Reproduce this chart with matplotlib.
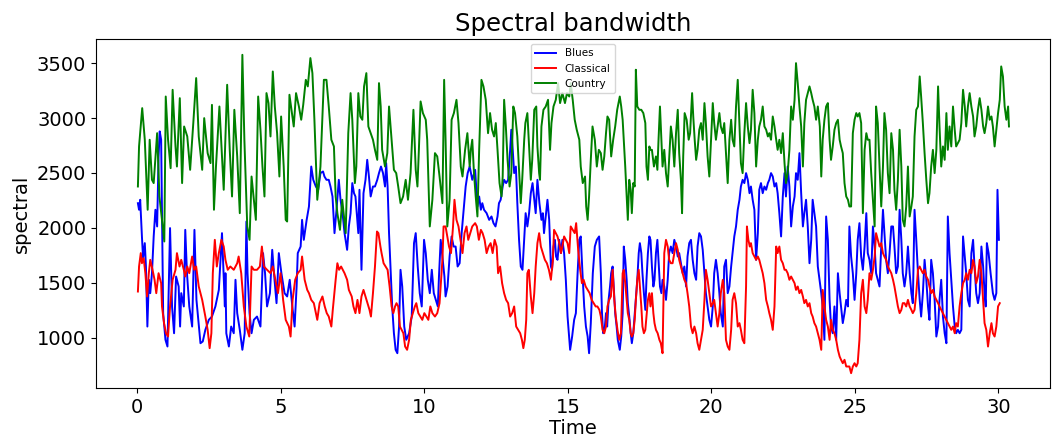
import matplotlib
matplotlib.use("Agg")
import matplotlib.pyplot as plt

# ---------------- data ----------------
country_t = [
 0.02,0.06,0.17,0.26,0.36,0.43,0.51,0.57,0.69,0.77,0.86,0.94,0.99,1.07,1.16,1.23,1.33,1.38,1.48,1.56,1.63,1.74,1.84,1.95,2.05,2.14,2.26,2.33,2.45,2.55,2.60,2.67,2.74,2.86,
 3.01,3.13,3.22,3.30,3.38,3.48,3.57,3.66,3.73,3.83,3.91,3.98,4.06,4.13,4.21,4.29,4.36,4.43,4.50,4.57,4.64,4.72,4.79,4.87,4.95,5.01,5.10,5.17,5.22,5.30,5.37,5.45,5.53,5.63,5.71,5.78,5.87,5.94,6.03,6.10,6.17,6.27,6.38,6.50,6.59,6.67,6.76,6.85,6.91,6.97,7.06,7.14,7.26,
 7.35,7.43,7.49,7.58,7.63,7.70,7.77,7.84,7.90,7.98,8.05,8.13,8.21,8.28,8.36,8.42,8.48,8.53,8.63,8.71,8.77,8.86,8.94,9.02,9.09,9.17,9.26,9.35,9.43,9.52,9.62,9.70,9.76,9.81,9.87,9.95,10.05,10.10,10.19,10.28,10.37,10.45,10.53,10.63,10.69,10.74,10.80,10.88,10.95,11.03,11.12,11.19,11.27,11.33,11.42,11.50,11.58,
 11.62,11.67,11.73,11.79,11.85,11.91,11.99,12.06,12.14,12.22,12.29,12.36,12.43,12.49,12.55,12.62,12.69,12.73,12.78,12.84,12.90,12.97,13.03,13.10,13.16,13.24,13.30,13.36,13.41,13.48,13.52,13.59,13.66,13.71,13.76,13.83,13.90,13.94,14.00,14.03,14.08,14.15,14.23,14.31,14.38,14.43,14.50,14.58,14.66,14.73,14.81,14.90,14.97,15.05,15.10,15.17,15.24,15.31,15.40,15.45,15.52,15.60,15.64,15.69,15.74,15.80,15.86,15.94,16.01,16.08,
 16.15,16.21,16.27,16.33,16.38,16.44,16.51,16.58,16.65,16.72,16.81,16.86,16.91,16.95,17.00,17.05,17.09,17.14,17.19,17.23,17.28,17.33,17.37,17.42,17.49,17.56,17.63,17.70,17.74,17.79,17.84,17.88,17.93,18.00,18.07,18.12,18.16,18.21,18.26,18.30,18.36,18.42,18.48,18.53,18.59,18.65,18.71,18.77,18.83,18.88,18.94,18.98,19.02,19.07,19.14,19.21,19.26,19.33,19.37,19.42,19.47,19.52,19.58,19.64,19.70,19.76,19.81,19.87,19.93,19.99,20.05,20.10,20.16,20.22,20.28,20.33,20.40,20.45,
 20.57,20.63,20.69,20.74,20.80,20.86,20.92,20.98,21.03,21.09,21.15,21.21,21.27,21.33,21.38,21.44,21.50,21.56,21.62,21.67,21.73,21.79,21.85,21.91,21.97,22.02,22.08,22.14,22.20,22.26,22.31,22.37,22.43,22.49,22.55,22.60,22.66,22.72,22.78,22.84,22.90,22.95,23.01,23.07,23.13,23.19,23.24,23.30,23.36,23.42,23.48,23.53,23.59,23.65,23.71,23.78,23.83,23.88,23.94,24.00,24.06,24.12,24.17,24.23,24.29,24.35,24.41,24.47,24.52,24.58,24.64,24.70,24.76,24.81,
 24.87,24.93,24.99,25.05,25.10,25.16,25.22,25.28,25.34,25.40,25.45,25.51,25.57,25.63,25.69,25.74,25.80,25.86,25.92,25.98,26.03,26.09,26.15,26.21,26.27,26.33,26.38,26.44,26.50,26.56,26.62,26.67,26.73,26.79,26.85,26.91,26.97,27.02,27.08,27.14,27.20,27.26,27.31,27.37,27.43,27.49,27.55,27.60,27.66,27.72,27.78,27.84,27.90,27.95,28.01,28.07,28.13,28.19,28.24,28.30,28.36,28.42,28.48,28.53,28.59,28.65,28.71,28.77,28.83,28.88,28.94,29.00,29.06,29.12,29.17,
 29.23,29.29,29.35,29.41,29.47,29.52,29.58,29.64,29.70,29.76,29.81,29.87,29.93,29.99,30.05,30.10,30.16,30.22,30.28,30.34,30.37]
country_v = [
 2376,2741,3090,2802,2164,2802,2437,2407,2862,2285,2072,1875,3196,2802,2543,3257,2741,2558,3181,2407,2923,2832,2528,2954,3364,2832,2528,2999,2680,2589,3120,2164,2558,3105,
 2346,3303,2710,2285,3075,2650,2133,3576,2802,2012,1890,2467,2255,2072,3196,2893,2558,2285,3227,3136,2832,3424,3105,2862,2467,3014,2558,2072,2057,3212,3075,2923,3227,3105,2984,3120,3348,3288,3546,3409,2984,2255,2558,3348,3348,3105,2802,2741,2285,2133,1981,2255,1951,
 2862,3227,2984,2407,2558,3227,3014,2984,3288,3409,2923,2862,2802,2710,2619,3318,3105,2710,2558,2680,3105,2802,2528,2498,2376,2224,2285,2437,2255,2498,3075,2528,2376,2710,3151,3045,2984,2802,2012,2255,2680,2650,2467,2224,3348,2802,2012,2255,2984,3045,3166,2954,2558,2467,2710,2862,2558,
 2710,2802,2498,2285,2103,2710,3348,3288,3166,2862,3045,2893,2832,2954,2710,2407,2285,2467,3166,2923,2619,2376,2498,3105,3045,2832,2528,2224,2437,2802,2954,3045,2680,2437,2619,3075,3105,2741,2498,2437,2923,3075,3105,3166,2710,2954,3105,3166,3318,3136,3227,3136,3227,3196,3318,3166,2984,2893,2802,2558,2407,2467,2194,2072,2285,2619,2923,2802,2558,2710,
 2680,2528,2650,2862,3014,2984,2650,2802,2923,3075,3196,3105,2984,2802,2558,2285,2072,2437,2346,2133,2407,2376,3440,3105,3075,3075,3045,2954,2558,2437,2741,2710,2710,2558,2650,2528,2802,3105,2802,2558,2710,2498,2376,2619,2923,2802,2558,2862,3075,2680,2437,2133,2650,3045,2984,2802,2862,3227,3014,2802,2619,2710,2893,2954,2802,3136,2954,2650,2467,2802,3136,2954,2802,2923,3045,2923,2862,2954,
 2407,2802,2984,2802,2741,3105,3348,2923,2589,2498,2862,3136,2923,2771,2893,3257,3045,2558,2802,2923,2984,3105,2923,2893,2832,2862,2802,3014,2923,2802,2710,2802,2680,2862,2589,2407,2498,2710,3105,2984,3166,3500,3318,3105,2923,2558,2954,3166,3227,3288,3227,3166,3105,2984,3105,2923,2467,2802,2984,3105,3136,2802,2619,2741,2893,2954,2984,2802,2741,2680,2407,2285,2255,2194,
 2194,2862,2984,3045,3014,3045,2954,2133,2710,2862,2802,2802,2498,2255,2012,3105,2954,2558,2194,2558,3045,2893,2498,2315,2862,2710,2346,2164,2437,2893,2558,2072,2012,2194,2558,2103,2194,2285,2832,3075,3105,3379,3196,2954,2680,2437,2224,2315,2558,2710,2498,2710,3288,2923,2558,2741,2619,3045,2710,2923,2741,3105,2893,2741,2771,2802,2954,3257,3105,2923,3105,3227,3105,3014,2832,
 2923,3075,3181,3075,2923,2862,2954,3105,2984,3014,2923,2741,2893,3045,3166,3470,3379,3105,2984,3105,2923]

blues_t = [
 0.02,0.06,0.10,0.16,0.20,0.26,0.30,0.35,0.40,0.45,0.51,0.57,0.63,0.69,0.74,0.78,0.83,0.90,0.98,1.05,1.14,1.21,1.28,1.35,1.44,1.49,1.53,1.62,1.67,1.73,1.81,1.91,1.99,2.06,2.20,2.28,2.37,2.49,2.60,2.72,2.84,2.95,3.05,
 3.07,3.10,3.19,3.27,3.36,3.42,3.48,3.57,3.66,3.74,3.80,3.84,3.91,3.98,4.06,4.17,4.29,4.38,4.45,4.52,4.62,4.70,4.78,4.85,4.93,5.02,5.13,5.22,5.31,5.40,5.48,5.55,5.59,5.69,5.74,5.80,5.90,5.98,6.06,6.13,6.22,6.30,6.38,6.47,6.52,6.59,6.67,6.73,6.80,6.87,6.94,7.02,7.08,7.15,7.22,7.31,
 7.37,7.43,7.49,7.55,7.60,7.70,7.74,7.81,7.88,7.95,8.01,8.07,8.13,8.21,8.28,8.36,8.42,8.49,8.56,8.63,8.67,8.72,8.77,8.83,8.88,8.94,9.00,9.06,9.12,9.17,9.23,9.30,9.37,9.47,9.56,9.64,9.70,9.77,9.84,9.91,9.99,10.05,10.12,10.19,10.26,10.33,10.40,10.47,10.51,10.57,10.63,10.70,10.74,10.81,10.88,10.95,11.02,11.09,11.16,11.23,11.30,11.37,11.44,11.51,11.58,11.67,11.77,
 11.85,11.91,11.97,12.02,12.08,12.17,12.26,12.34,12.41,12.48,12.55,12.60,12.66,12.73,12.78,12.85,12.92,12.99,13.03,13.08,13.13,13.19,13.24,13.30,13.36,13.42,13.48,13.53,13.59,13.65,13.71,13.77,13.83,13.88,13.94,14.01,14.08,14.13,14.17,14.23,14.29,14.35,14.41,14.45,14.50,14.55,14.59,14.64,14.70,14.76,14.81,14.87,14.93,14.99,15.08,15.15,15.22,15.28,15.34,15.40,15.45,15.51,15.57,15.63,15.69,15.74,15.80,15.87,15.94,16.01,16.09,16.15,
 16.19,16.23,16.28,16.33,16.37,16.42,16.47,16.51,16.56,16.60,16.65,16.70,16.74,16.81,16.86,16.91,16.95,17.00,17.05,17.09,17.14,17.19,17.23,17.28,17.35,17.42,17.47,17.51,17.56,17.60,17.65,17.70,17.74,17.79,17.84,17.88,17.93,17.98,18.02,18.07,18.12,18.16,18.21,18.26,18.30,18.36,18.42,18.48,18.53,18.59,18.65,18.71,18.77,18.83,18.88,18.94,19.00,19.06,19.12,19.17,19.23,19.29,19.35,19.41,19.47,19.52,19.58,19.64,19.70,19.76,19.81,19.87,19.93,19.99,20.05,20.10,20.16,20.22,20.28,20.33,20.40,
 20.45,20.51,20.57,20.63,20.69,20.74,20.80,20.86,20.92,20.98,21.03,21.09,21.15,21.21,21.27,21.33,21.38,21.44,21.50,21.56,21.62,21.67,21.73,21.79,21.85,21.91,21.97,22.02,22.08,22.14,22.20,22.26,22.31,22.37,22.43,22.49,22.55,22.60,22.66,22.72,22.78,22.84,22.90,22.95,23.01,23.07,23.13,23.19,23.24,23.30,23.36,23.42,23.48,23.53,23.59,23.65,23.71,23.77,23.83,23.88,23.94,24.00,24.06,24.12,24.17,24.23,24.29,24.35,24.41,24.47,24.52,24.58,24.64,24.70,24.76,
 24.81,24.87,24.93,24.99,25.05,25.10,25.16,25.22,25.28,25.34,25.40,25.45,25.51,25.57,25.63,25.69,25.74,25.80,25.86,25.92,25.98,26.03,26.09,26.15,26.21,26.27,26.33,26.38,26.44,26.50,26.56,26.62,26.67,26.73,26.79,26.85,26.91,26.97,27.02,27.08,27.14,27.20,27.26,27.31,27.37,27.43,27.49,27.55,27.60,27.66,27.72,27.78,27.84,27.90,27.95,28.01,28.07,28.13,28.19,28.24,28.30,28.36,28.42,28.48,28.53,28.59,28.65,28.71,28.77,28.83,28.88,28.94,29.00,29.06,29.12,29.17,
 29.23,29.29,29.35,29.41,29.47,29.52,29.56,29.60,29.66,29.73,29.81,29.87,29.93,29.97,30.02]
blues_v = [
 2224,2164,2255,1921,1723,1860,1647,1100,1526,1404,1586,1921,2164,2012,2650,2878,2802,1222,979,918,1997,1283,1039,1556,1465,1100,1404,1283,1981,1586,1283,1100,1981,1343,948,964,1070,1161,1191,1283,1434,1951,1283,
 1586,1039,918,1100,1039,1526,1222,1070,888,1039,2057,1586,1222,1039,1161,1191,1100,1769,1586,1283,1404,1799,1526,1313,1769,1586,1404,1374,1526,1283,1100,1465,1769,1829,2072,1890,2072,2194,2558,2437,2376,2346,2498,2513,2467,2437,2437,2376,2285,1951,2164,2437,2255,2133,1951,1799,
 2012,2133,2407,2315,2285,1951,2346,1617,2315,2437,2619,2467,2285,2376,2376,2437,2498,2558,2498,2376,2589,2376,1951,1586,1283,1039,888,857,1100,1617,1465,1100,979,1039,1191,1860,1951,1647,1404,1283,1890,1769,1526,1404,1617,1404,1343,1283,1556,1890,1738,1556,1374,1465,1738,1921,1829,1829,1647,1677,1951,2164,2376,2498,2558,2437,2528,
 2194,2285,2164,2224,2164,2133,2072,2103,2042,2012,2103,2224,2255,2376,2437,2407,2437,2710,2893,2710,2498,2558,2224,1890,1647,1617,1890,2133,2012,2133,2315,2407,2255,2133,2437,2224,2072,2133,1951,2103,2255,2072,1647,1617,1829,1890,1738,1708,1890,1769,1890,1769,1526,1191,888,1009,1161,1222,1586,1890,1921,1586,1283,1100,1009,857,1131,1586,1829,1890,1921,1586,
 1222,1039,1070,1222,1100,1343,1465,1586,1647,1465,1222,1100,979,888,1009,1222,1829,1708,1526,1313,1191,1039,948,1039,1283,1526,1769,1860,1769,1586,1404,1252,1526,1769,1921,1890,1647,1465,1526,1769,1890,1708,1465,1404,1526,1465,1343,1526,1769,1829,1769,1890,1829,1738,1769,1677,1586,1647,1465,1738,1860,1890,1708,1586,1526,1829,1951,1921,1799,1586,1404,1283,1161,1100,1283,1586,1708,1586,1404,1222,1100,
 1647,1708,1404,1465,1647,1769,1921,2012,2164,2255,2376,2437,2407,2498,2437,2315,2376,2255,2164,1708,1951,2346,2407,2315,2376,2346,2407,2437,2498,2467,2376,2407,2315,2133,1921,2285,2498,2285,2558,2376,2012,2194,2285,2498,2437,2680,2315,2012,2133,2255,2012,1677,1890,2255,2133,2012,1647,1526,1404,1283,979,2103,1890,1343,1100,1039,1283,979,1586,1404,1283,1131,1222,1343,1283,
 2012,1738,1586,1343,1586,1890,2042,1738,1617,1829,2133,1769,1708,1586,2012,1829,1586,1526,1465,1829,2164,1951,1708,1586,1769,2012,2012,1829,1586,1647,2164,1890,1586,1465,1586,1829,1586,1404,1313,2164,1890,1586,1343,1191,1404,1708,1526,1283,1161,1708,1586,1343,1009,1100,1343,1526,1191,1039,948,2103,1769,1526,1283,1100,1039,1070,1039,1070,1921,1738,1586,1343,1283,1769,1890,1647,
 1404,1313,1404,1829,1647,1404,1283,1860,1769,1586,1404,1343,1404,2346,1890]

classical_t = [
 0.02,0.06,0.12,0.16,0.22,0.28,0.34,0.40,0.45,0.53,0.60,0.66,0.74,0.83,0.86,0.93,1.00,1.07,1.14,1.23,1.33,1.38,1.47,1.53,1.62,1.67,1.74,1.81,1.91,1.98,2.05,2.14,2.26,2.37,2.45,2.52,2.58,2.63,2.70,2.77,2.84,2.93,3.01,
 3.07,3.15,3.24,3.36,3.48,3.53,3.62,3.71,3.80,3.90,3.98,4.06,4.17,4.27,4.34,4.41,4.52,4.64,4.72,4.81,4.90,4.99,5.08,5.17,5.28,5.34,5.41,5.50,5.59,5.69,5.74,5.83,5.92,5.98,6.06,6.15,6.27,6.35,6.45,6.53,6.60,6.67,6.76,6.81,6.91,6.97,7.03,7.10,7.22,
 7.31,7.37,7.47,7.53,7.60,7.67,7.74,7.81,7.88,7.95,8.02,8.09,8.14,8.21,8.28,8.35,8.40,8.47,8.51,8.58,8.65,8.72,8.79,8.86,8.92,8.98,9.03,9.09,9.15,9.21,9.27,9.33,9.40,9.47,9.53,9.60,9.67,9.72,9.79,9.86,9.93,10.00,10.07,10.14,10.21,10.28,10.37,10.45,10.53,10.63,10.67,10.74,10.80,10.86,10.93,11.00,11.05,11.12,11.19,11.26,11.33,11.40,11.47,11.53,11.60,11.67,11.77,
 11.83,11.90,11.97,12.03,12.10,12.17,12.24,12.31,12.38,12.45,12.52,12.57,12.64,12.71,12.78,12.85,12.92,12.99,13.06,13.13,13.20,13.27,13.34,13.40,13.45,13.50,13.55,13.59,13.64,13.71,13.77,13.83,13.88,13.94,14.00,14.06,14.13,14.20,14.27,14.34,14.41,14.48,14.52,14.58,14.64,14.70,14.76,14.81,14.87,14.93,14.99,15.05,15.10,15.17,15.24,15.29,15.36,15.43,15.49,15.55,15.62,15.69,15.76,15.83,15.90,15.97,16.03,16.10,16.15,
 16.21,16.27,16.33,16.38,16.44,16.50,16.56,16.62,16.67,16.73,16.79,16.85,16.91,16.95,17.00,17.05,17.09,17.14,17.19,17.23,17.28,17.33,17.37,17.42,17.47,17.51,17.56,17.60,17.65,17.70,17.74,17.79,17.84,17.88,17.93,17.98,18.02,18.07,18.13,18.19,18.24,18.30,18.36,18.42,18.48,18.53,18.59,18.65,18.71,18.77,18.83,18.88,18.94,19.00,19.06,19.12,19.17,19.23,19.29,19.35,19.41,19.47,19.52,19.58,19.64,19.70,19.76,19.81,19.87,19.93,19.99,20.05,20.10,20.16,20.22,20.28,20.33,20.40,20.45,
 20.51,20.57,20.63,20.69,20.74,20.80,20.86,20.92,20.98,21.03,21.09,21.15,21.21,21.24,21.29,21.34,21.38,21.44,21.50,21.56,21.62,21.67,21.73,21.79,21.85,21.91,21.97,22.02,22.08,22.14,22.20,22.26,22.31,22.37,22.43,22.49,22.55,22.60,22.66,22.72,22.78,22.84,22.90,22.95,23.01,23.07,23.13,23.19,23.24,23.30,23.36,23.42,23.48,23.53,23.59,23.65,23.71,23.77,23.83,23.88,23.94,24.00,24.06,24.12,24.17,24.23,24.29,24.35,24.41,24.47,24.52,24.58,24.64,24.70,
 24.81,24.87,24.93,24.99,25.05,25.10,25.16,25.22,25.28,25.34,25.40,25.45,25.51,25.57,25.63,25.69,25.74,25.80,25.86,25.92,25.98,26.03,26.09,26.15,26.21,26.27,26.33,26.38,26.44,26.50,26.56,26.62,26.67,26.73,26.79,26.85,26.91,26.97,27.02,27.08,27.14,27.20,27.26,27.31,27.37,27.43,27.49,27.55,27.60,27.66,27.72,27.78,27.84,27.90,27.95,28.01,28.07,28.13,28.19,28.24,28.30,28.36,28.42,28.48,28.53,28.59,28.65,28.71,28.77,28.83,28.88,28.94,29.00,29.06,29.12,29.17,
 29.23,29.29,29.35,29.41,29.47,29.52,29.58,29.64,29.70,29.76,29.81,29.87,29.93,29.99,30.05]
classical_v = [
 1419,1647,1769,1677,1723,1586,1374,1586,1708,1617,1526,1404,1586,1495,1283,1131,1039,1009,1283,1526,1617,1769,1647,1708,1617,1556,1647,1586,1738,1617,1647,1465,1343,1191,1070,903,1039,1586,1890,1647,1769,1890,1829,
 1708,1617,1647,1617,1677,1738,1586,1283,1100,1009,1647,1617,1617,1647,1829,1647,1617,1586,1647,1526,1404,1586,1343,1161,1100,1009,1343,1526,1586,1617,1738,1526,1434,1404,1343,1313,1161,1313,1374,1283,1222,1191,1100,1252,1526,1677,1617,1647,1586,
 1526,1434,1374,1283,1222,1343,1222,1374,1434,1374,1313,1252,1191,1404,1647,1966,1951,1829,1769,1677,1647,1617,1465,1283,1222,1283,1313,1283,1100,1070,1039,918,888,979,1161,1222,1283,1313,1222,1191,1161,1222,1191,1161,1283,1222,1191,1222,1313,1708,2012,2012,1921,1829,1769,2012,2255,2072,2012,1890,1769,1951,2012,1890,1951,2012,2042,
 2012,1890,1981,1951,1890,1769,1829,1860,1769,1890,1829,1586,1647,1495,1404,1343,1313,1191,1222,1283,1100,1070,1039,979,903,979,1161,1586,1617,1374,1222,1404,1647,1860,1951,1829,1769,1708,1677,1617,1526,1708,1981,1951,1921,1860,1769,1829,1921,1890,1860,1769,2012,1981,1951,2042,1799,1617,1495,1526,1465,1434,1404,1343,1313,1283,1283,1252,1191,
 1070,1039,1100,1283,1343,1374,1617,1343,1191,1070,979,1039,1586,1617,1495,1343,1222,1161,1039,1009,1039,1161,1343,1526,1617,1465,1283,1100,1039,1070,1191,1343,1404,1283,1404,1222,1131,1070,1039,979,948,857,1769,1890,1829,1708,1677,1677,1769,1860,1799,1708,1647,1586,1526,1495,1404,1283,1100,1039,1100,1039,948,888,979,1070,1343,1617,1526,1404,1283,1313,1343,1222,1100,1222,1404,1526,1404,
 979,918,888,1070,1343,1404,1313,1100,1131,1070,979,948,1465,2012,1890,1829,1860,1769,1738,1708,1738,1708,1647,1586,1495,1343,1283,1222,1161,1070,1283,1829,1769,1829,1708,1677,1617,1617,1586,1526,1556,1526,1495,1434,1465,1404,1434,1374,1313,1343,1283,1313,1222,1191,1131,1100,1039,979,888,1434,1283,1161,1100,979,1161,1070,1039,979,888,827,797,766,797,736,
 736,675,736,766,736,766,979,1404,1526,1283,1222,1343,1586,1526,1617,1738,1951,1890,1829,1860,1769,1738,1708,1647,1617,1586,1526,1465,1374,1283,1222,1252,1313,1313,1283,1343,1283,1252,1222,1252,1404,1617,1647,1617,1586,1617,1556,1526,1465,1404,1434,1374,1343,1313,1283,1252,1222,1191,1161,1131,1100,1070,1100,1039,1131,1100,1283,1404,1495,1526,1586,1526,1617,1586,1708,1647,
 1495,1556,1708,1586,1343,1131,1070,918,1039,1131,1039,1009,1100,1283,1313]

series_names = ["Blues", "Classical", "Country"]
series_colors = ["b", "r", "g"]
x_ticks = [0, 5, 10, 15, 20, 25, 30]
y_ticks = [1000, 1500, 2000, 2500, 3000, 3500]

# ---------------- figure ----------------
fig = plt.figure(figsize=(10.56, 4.37), dpi=100)
ax = fig.add_axes([96/1056, 1 - 388/437, 954/1056, 349/437])

ax.plot(blues_t, blues_v, color=series_colors[0], lw=1.4, label=series_names[0])
ax.plot(classical_t, classical_v, color=series_colors[1], lw=1.4, label=series_names[1])
ax.plot(country_t, country_v, color=series_colors[2], lw=1.4, label=series_names[2])

ax.set_xlim(-1.44, 31.8)
ax.set_ylim(540, 3720)
ax.set_xticks(x_ticks)
ax.set_yticks(y_ticks)
ax.tick_params(labelsize=14)
ax.set_title("Spectral bandwidth", fontsize=17.5)
ax.set_xlabel("Time", fontsize=14, labelpad=2)
ax.set_ylabel("spectral", fontsize=14)
ax.legend(loc="upper center", fontsize=7.5)

fig.savefig("out.png", dpi=100)
